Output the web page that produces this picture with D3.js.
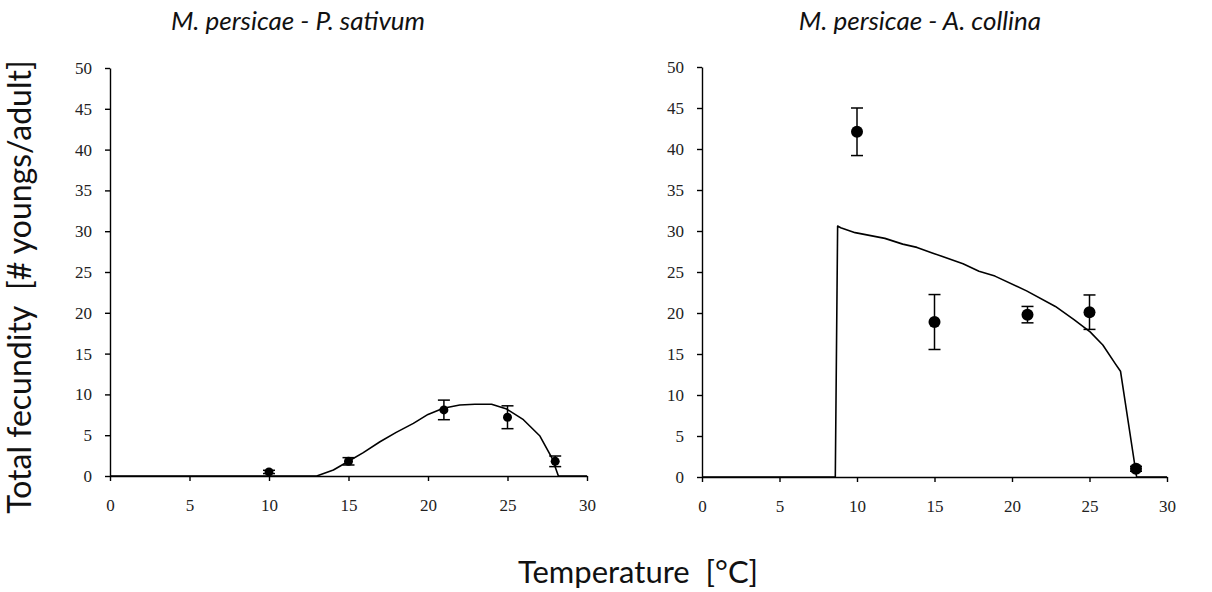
<!DOCTYPE html>
<html>
<head>
<meta charset="utf-8">
<script src="https://cdn.jsdelivr.net/npm/d3@7"></script>
<style>
  body { margin: 0; background: #fff; }
  text { white-space: pre; }
</style>
</head>
<body>
<div id="chart"></div>
<script>
// observed temperatures
var temps = [10, 15, 21, 25, 28];

// M. persicae on P. sativum
var sativumMean = [0.5, 1.8, 8.1, 7.2, 1.8];
var sativumErr  = [0.2, 0.45, 1.2, 1.4, 0.65];
var sativumModelT = [0, 13.0, 14.05, 15, 15.93, 16.98, 18.0, 19.08, 20.0, 20.96, 22.0, 22.95, 24.0, 24.95, 26.0, 27.04, 27.8, 28.2, 30];
var sativumModelV = [0, 0, 0.74, 1.8, 2.86, 4.2, 5.35, 6.45, 7.55, 8.3, 8.7, 8.8, 8.8, 8.2, 6.9, 4.9, 2.2, 0, 0];

// M. persicae on A. collina
var collinaMean = [42.1, 18.9, 19.8, 20.1, 1.0];
var collinaErr  = [2.9, 3.35, 1.0, 2.1, 0.3];
var collinaModelT = [0, 8.6, 8.75, 8.95, 9.88, 11.8, 12.95, 13.87, 14.9, 16.84, 17.87, 18.9, 20.94, 22.8, 24.0, 25.04, 25.86, 26.67, 27.0, 28.04, 30];
var collinaModelV = [0, 0, 30.6, 30.4, 29.8, 29.1, 28.4, 28.0, 27.3, 26.0, 25.1, 24.5, 22.7, 20.8, 19.2, 17.7, 16.1, 13.8, 12.9, 0, 0];

var xTicks = [0, 5, 10, 15, 20, 25, 30];
var yTicks = [0, 5, 10, 15, 20, 25, 30, 35, 40, 45, 50];

var W = 1212, H = 592;
var svg = d3.select("#chart").append("svg")
  .attr("width", W)
  .attr("height", H)
  .style("background", "#fff");

var panels = [
  { title: "M. persicae - P. sativum", tx: 298, x0: 110, x1: 587, y0: 476, y1: 68, r: 4.5,
    mean: sativumMean, err: sativumErr, mt: sativumModelT, mv: sativumModelV },
  { title: "M. persicae - A. collina", tx: 920, x0: 702, x1: 1167, y0: 477, y1: 67, r: 6,
    mean: collinaMean, err: collinaErr, mt: collinaModelT, mv: collinaModelV }
];

panels.forEach(function(p) {
  var x = d3.scaleLinear().domain([0, 30]).range([p.x0, p.x1]);
  var y = d3.scaleLinear().domain([0, 50]).range([p.y0, p.y1]);
  var g = svg.append("g");

  // model curve
  var pts = p.mt.map(function(t, i) { return [t, p.mv[i]]; });
  g.append("path")
    .datum(pts)
    .attr("fill", "none")
    .attr("stroke", "#000")
    .attr("stroke-width", 1.6)
    .attr("stroke-linejoin", "round")
    .attr("d", d3.line().x(function(d) { return x(d[0]); }).y(function(d) { return y(d[1]); }));

  // axes
  var gx = g.append("g")
    .attr("transform", "translate(0," + p.y0 + ")")
    .call(d3.axisBottom(x).tickValues(xTicks).tickSize(5).tickSizeOuter(0).tickPadding(18));
  var gy = g.append("g")
    .attr("transform", "translate(" + p.x0 + ",0)")
    .call(d3.axisLeft(y).tickValues(yTicks).tickSize(5).tickSizeOuter(0).tickPadding(13));
  [gx, gy].forEach(function(a) {
    a.selectAll("path, line").attr("stroke", "#000").attr("stroke-width", 1.4);
    a.selectAll("text")
      .attr("fill", "#222")
      .attr("font-family", "'Liberation Serif', 'Times New Roman', serif")
      .attr("font-size", 17);
  });

  // error bars
  var eb = g.selectAll(".eb")
    .data(temps.map(function(t, i) { return { t: t, m: p.mean[i], e: p.err[i] }; }))
    .enter().append("g");
  eb.append("line")
    .attr("x1", function(d) { return x(d.t); })
    .attr("x2", function(d) { return x(d.t); })
    .attr("y1", function(d) { return y(d.m - d.e); })
    .attr("y2", function(d) { return y(d.m + d.e); })
    .attr("stroke", "#000").attr("stroke-width", 1.5);
  [-1, 1].forEach(function(s) {
    eb.append("line")
      .attr("x1", function(d) { return x(d.t) - 6; })
      .attr("x2", function(d) { return x(d.t) + 6; })
      .attr("y1", function(d) { return y(d.m + s * d.e); })
      .attr("y2", function(d) { return y(d.m + s * d.e); })
      .attr("stroke", "#000").attr("stroke-width", 1.5);
  });
  eb.append("circle")
    .attr("cx", function(d) { return x(d.t); })
    .attr("cy", function(d) { return y(d.m); })
    .attr("r", p.r)
    .attr("fill", "#000");

  // panel title
  svg.append("text")
    .attr("x", p.tx)
    .attr("y", 30)
    .attr("text-anchor", "middle")
    .attr("font-family", "Lato, 'Open Sans', sans-serif")
    .attr("font-style", "italic")
    .attr("font-size", 26)
    .attr("fill", "#111")
    .text(p.title);
});

// axis titles
svg.append("text")
  .attr("transform", "translate(31,287) rotate(-90)")
  .attr("text-anchor", "middle")
  .attr("font-family", "Lato, 'Open Sans', sans-serif")
  .attr("font-size", 32)
  .attr("fill", "#111")
  .text("Total fecundity  [# youngs/adult]");

svg.append("text")
  .attr("x", 638)
  .attr("y", 583)
  .attr("text-anchor", "middle")
  .attr("font-family", "Lato, 'Open Sans', sans-serif")
  .attr("font-size", 31)
  .attr("fill", "#111")
  .text("Temperature  [°C]");
</script>
</body>
</html>
